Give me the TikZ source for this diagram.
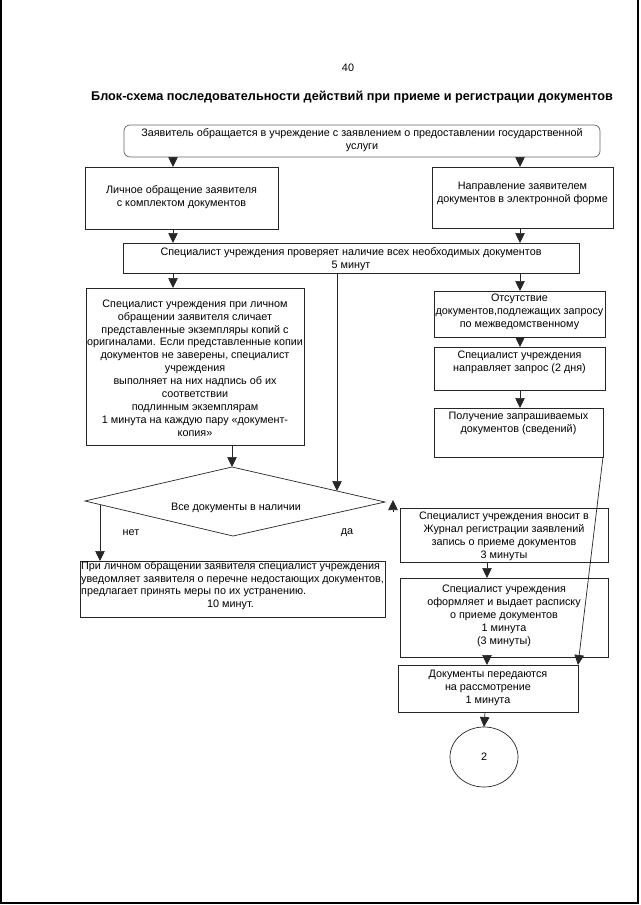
\documentclass[tikz,border=0pt]{standalone}
\usepackage{fontspec}
\setmainfont{Liberation Sans}
\usetikzlibrary{arrows.meta,shapes.geometric}
\begin{document}
\begin{tikzpicture}[x=1pt,y=-1pt,
 bx/.style={draw=black!85,line width=0.7pt,inner sep=0,outer sep=0},
 txt/.style={align=center,font=\fontsize{10.8}{12.9}\selectfont,inner sep=0},
 arr/.style={line width=0.7pt,draw=black!85,-{Triangle[width=9.5pt,length=10pt]}},
 ln/.style={line width=0.7pt,draw=black!85}]
\useasboundingbox (0,0) rectangle (640,905);
\fill[white] (0,0) rectangle (640,905);
% scan border
\coordinate (b1) at (1,0); \coordinate (b2) at (1,903); \coordinate (b3) at (638,903); \coordinate (b4) at (638,0);
\draw[line width=1.5pt] (b1) -- (b2) -- (b3) -- (b4);

\node[txt] (pnum) at (348,68) {40};
\node[txt,font=\bfseries\fontsize{12.7}{15}\selectfont] (title) at (352,97) {Блок-схема последовательности действий при приеме и регистрации документов};

% x helper coordinates
\coordinate (x173) at (173,0);
\coordinate (x232) at (232,0);
\coordinate (x337) at (337,0);
\coordinate (x520) at (520,0);
\coordinate (x487) at (487,0);
\coordinate (x485) at (485,0);

% boxes
\node[bx,rounded corners=6pt,draw=black!60,minimum width=476pt,minimum height=32pt] (top) at (362,141) {};
\node[txt] (toptxt) at (362,140) {Заявитель обращается в учреждение с заявлением о предоставлении государственной\\услуги};

\node[bx,minimum width=193pt,minimum height=62pt] (lich) at (181.5,198) {};
\node[txt] (lichtxt) at (181.5,197) {Личное обращение заявителя\\с комплектом документов};

\node[bx,minimum width=181pt,minimum height=61pt] (napr) at (522.5,197.5) {};
\node[txt] (naprtxt) at (522.5,193) {Направление заявителем\\документов в электронной форме};

\node[bx,minimum width=456pt,minimum height=30pt] (check) at (351,258) {};
\node[txt] (checktxt) at (351,259) {Специалист учреждения проверяет наличие всех необходимых документов\\5 минут};

\node[bx,minimum width=218pt,minimum height=157pt] (big) at (195,366.5) {};
\node[txt] (bigtxt) at (195,368) {Специалист учреждения при личном\\обращении заявителя сличает\\представленные экземпляры копий с\\оригиналами. Если представленные копии\\документов не заверены, специалист\\учреждения\\выполняет на них надпись об их\\соответствии\\подлинным экземплярам\\1 минута на каждую пару «документ-\\копия»};

\node[bx,minimum width=171pt,minimum height=46pt] (ots) at (519.5,314) {};
\node[txt] (otstxt) at (519.5,312) {Отсутствие\\документов,подлежащих запросу\\по межведомственному};

\node[bx,minimum width=171pt,minimum height=43pt] (zapr) at (519.5,368.5) {};
\node[txt] (zaprtxt) at (519.5,362) {Специалист учреждения\\направляет запрос (2 дня)};

\node[bx,minimum width=169pt,minimum height=49pt] (polu) at (518.5,432.5) {};
\node[txt] (polutxt) at (518.5,423.5) {Получение запрашиваемых\\документов (сведений)};

% diamond
\coordinate (dT) at (232,467);
\coordinate (dL) at (85,501);
\coordinate (dR) at (385,502);
\coordinate (dB) at (233,536);
\draw[ln] (dL) -- (dT) -- (dR) -- (dB) -- cycle;
\node[txt] (dtxt) at (236,508) {Все документы в наличии};
\node[txt] (net) at (131,533) {нет};
\node[txt] (da) at (347,533) {да};
\coordinate (dE) at (337,491);
\coordinate (dN) at (100,504.5);

\node[bx,minimum width=305pt,minimum height=56pt] (nedost) at (232.5,589) {};
\node[txt,align=left,anchor=north west] (nedosttxt) at (81,561) {При личном обращении заявителя специалист учреждения\\уведомляет заявителя о перечне недостающих документов,\\предлагает принять меры по их устранению.\\\hspace*{126pt}10 минут.};

\node[bx,minimum width=208pt,minimum height=54pt] (zhur) at (504,535) {};
\node[txt] (zhurtxt) at (504,536) {Специалист учреждения вносит в\\Журнал регистрации заявлений\\запись о приеме документов\\3 минуты};

\node[bx,minimum width=208pt,minimum height=79pt] (oform) at (504,617.5) {};
\node[txt] (oformtxt) at (504,616) {Специалист учреждения\\оформляет и выдает расписку\\о приеме документов\\1 минута\\(3 минуты)};

\node[bx,minimum width=180pt,minimum height=47pt] (pered) at (488,688.5) {};
\node[txt] (peredtxt) at (488,688) {Документы передаются\\на рассмотрение\\1 минута};

\node[bx,ellipse,minimum width=68pt,minimum height=60pt] (circ) at (484,757) {};
\node[txt] (circtxt) at (484,757) {2};

% connectors
\draw[arr] (top.south -| x173) -- (lich.north -| x173);
\draw[arr] (top.south -| x520) -- (napr.north -| x520);
\draw[arr] (lich.south -| x173) -- (check.north -| x173);
\draw[arr] (napr.south -| x520) -- (check.north -| x520);
\draw[arr] (check.south -| x173) -- (big.north -| x173);
\draw[arr] (check.south -| x337) -- (dE);
\draw[arr] (check.south -| x520) -- (ots.north -| x520);
\draw[arr] (ots.south -| x520) -- (zapr.north -| x520);
\draw[arr] (zapr.south -| x520) -- (polu.north -| x520);
\draw[arr] (big.south -| x232) -- (dT);
\draw[arr] (dN) -- (nedost.north -| dN);
\coordinate (yaA) at (393,512);
\coordinate (yaB) at (393,500);
\draw[arr] (yaA) -- (yaB);
\draw[arr] (zhur.south -| x487) -- (oform.north -| x487);
\draw[arr] (oform.south -| x487) -- (pered.north -| x487);
\draw[arr] (polu.south east) -- (pered.north east);
\draw[arr] (pered.south -| x485) -- (circ.north);
\end{tikzpicture}
\end{document}
